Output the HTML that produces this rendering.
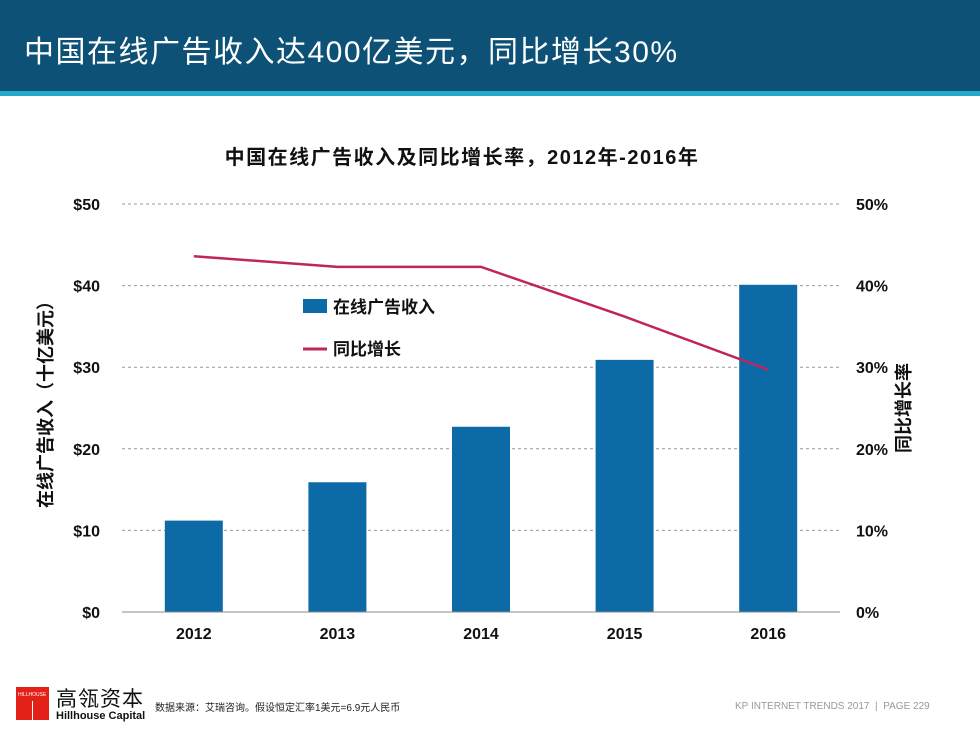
<!DOCTYPE html>
<html><head><meta charset="utf-8"><style>
body{margin:0;width:980px;height:735px;background:#fff;overflow:hidden;position:relative;font-family:"Liberation Sans","Noto Sans CJK SC",sans-serif}
.abs{position:absolute}
</style></head><body>
<div class="abs" style="left:0;top:0;width:980px;height:91px;background:#0d5176"></div>
<div class="abs" style="left:0;top:91px;width:980px;height:5px;background:#22aac8"></div>
<div class="abs" style="left:24px;top:27px;color:#fff;font-size:30px;letter-spacing:1.5px;white-space:nowrap">中国在线广告收入达400亿美元，同比增长30%</div>
<svg class="abs" style="left:0;top:0" width="980" height="735">
<text x="462" y="164" text-anchor="middle" font-size="20" letter-spacing="1.5" font-weight="bold" fill="#111">中国在线广告收入及同比增长率，2012年-2016年</text>
<g id="grid"></g><g id="bars"></g><g id="line"></g><g id="axes"></g>
<text transform="translate(52,400) rotate(-90)" text-anchor="middle" font-size="18" font-weight="bold" fill="#111">在线广告收入（十亿美元）</text>
<text transform="translate(910,408) rotate(-90)" text-anchor="middle" font-size="18" font-weight="bold" fill="#111">同比增长率</text>
<rect x="303" y="299" width="24" height="14" fill="#0c6aa6"/>
<text x="333" y="313" font-size="17" font-weight="bold" fill="#111">在线广告收入</text>
<line x1="303" y1="349" x2="327" y2="349" stroke="#c0245e" stroke-width="3"/>
<text x="333" y="355" font-size="17" font-weight="bold" fill="#111">同比增长</text>
</svg>
<div class="abs" style="left:16px;top:687px;width:33px;height:33px;background:#e32119"><div style="color:#fff;font-size:5px;margin:5px 0 0 2px">HILLHOUSE</div><div style="position:absolute;left:16px;top:14px;width:1px;height:19px;background:#fff"></div></div>
<div class="abs" style="left:56px;top:683px;font-size:21px;letter-spacing:1px;color:#111">高瓴资本</div>
<div class="abs" style="left:56px;top:710px;font-size:11px;font-weight:bold;color:#111">Hillhouse Capital</div>
<div class="abs" style="left:155px;top:699px;font-size:10px;color:#222">数据来源：艾瑞咨询。假设恒定汇率1美元=6.9元人民币</div>
<div class="abs" style="left:735px;top:701px;font-size:10px;color:#999;white-space:nowrap">KP INTERNET TRENDS 2017 &nbsp;|&nbsp; PAGE 229</div>
<script>
const categories=["2012","2013","2014","2015","2016"];
const revenue=[11.2,15.9,22.7,30.9,40.1];
const growth=[43.6,42.3,42.3,36.2,29.7];
const leftTicks=["$0","$10","$20","$30","$40","$50"];
const rightTicks=["0%","10%","20%","30%","40%","50%"];
const NS="http://www.w3.org/2000/svg";
const X0=122,X1=840,Y0=612,Y1=204;
const band=(X1-X0)/categories.length;
const xc=i=>X0+band*(i+0.5);
const yL=v=>Y0-(v/50)*(Y0-Y1);
const yR=v=>Y0-(v/50)*(Y0-Y1);
function mk(t,a,p){const e=document.createElementNS(NS,t);for(const k in a)e.setAttribute(k,a[k]);p.appendChild(e);return e;}
const grid=document.getElementById('grid'),bars=document.getElementById('bars'),line=document.getElementById('line'),axes=document.getElementById('axes');
leftTicks.forEach((t,i)=>{const y=yL(i*10);
 if(i>0){const g=mk('line',{x1:X0,x2:X1,y1:y,y2:y,stroke:'#999','stroke-dasharray':'3,3'},grid);
 
 }
 const a=mk('text',{x:100,y:y+6,'text-anchor':'end','font-size':16,'font-weight':'bold',fill:'#111'},axes);a.textContent=t;
 
 
 const b=mk('text',{x:856,y:y+6,'font-size':16,'font-weight':'bold',fill:'#111'},axes);b.textContent=rightTicks[i];
 
 
});
const ax=mk('line',{x1:X0,x2:X1,y1:Y0,y2:Y0,stroke:'#888'},axes);


categories.forEach((c,i)=>{
 const r=mk('rect',{x:xc(i)-29,y:yL(revenue[i]),width:58,height:Y0-yL(revenue[i]),fill:'#0c6aa6'},bars);
 
 
 const t=mk('text',{x:xc(i),y:639,'text-anchor':'middle','font-size':16,'font-weight':'bold',fill:'#111'},axes);t.textContent=c;
 
 
});
const pl=mk('polyline',{points:growth.map((v,i)=>xc(i)+','+yR(v)).join(' '),fill:'none',stroke:'#c0245e','stroke-width':2.5},line);


</script>
</body></html>
